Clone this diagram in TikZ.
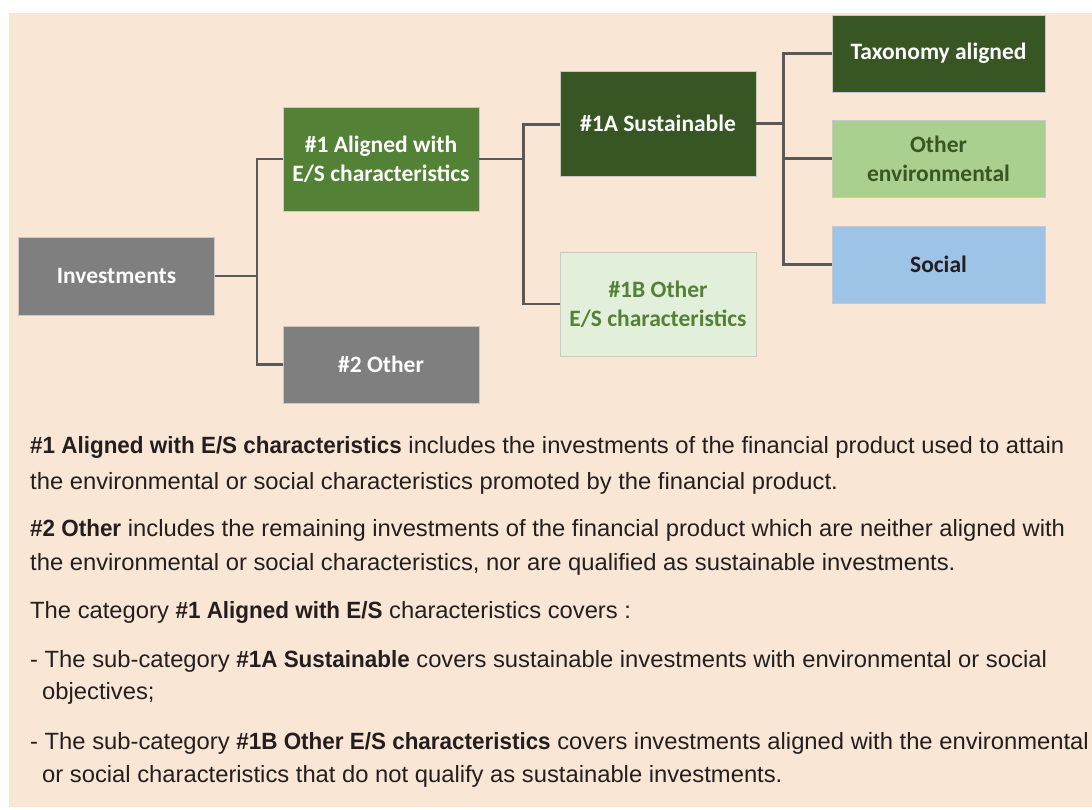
\documentclass[tikz,border=0pt]{standalone}
\usepackage{fontspec}
\setmainfont{Liberation Sans}[FakeStretch=1.012]
\newfontfamily\boldbody{Liberation Sans Bold}[FakeStretch=0.955]
\newfontfamily\boxfont{Carlito}
\newcommand{\bt}[1]{{\boldbody #1}}
\definecolor{peach}{HTML}{FAE6D4}
\definecolor{boxgray}{HTML}{7F7F7F}
\definecolor{midgreen}{HTML}{538135}
\definecolor{darkgreen}{HTML}{375623}
\definecolor{palegreen}{HTML}{E2EFDA}
\definecolor{lightgreen}{HTML}{A9D08E}
\definecolor{lightblue}{HTML}{9DC3E6}
\definecolor{connc}{HTML}{595959}
\definecolor{edgec}{HTML}{C8C8C8}
\definecolor{textc}{HTML}{231F20}
\tikzset{
  box/.style={rectangle, draw=edgec, line width=0.8pt, inner sep=2pt, align=center,
    font=\boxfont\bfseries\fontsize{23.5}{29}\selectfont},
  wbox/.style={box, minimum width=196pt, text=white},
  rbox/.style={box, minimum width=213pt, minimum height=77pt},
  conn/.style={draw=connc, line width=2.6pt},
  line/.style={anchor=base west, inner sep=0pt, text=textc, font=\fontsize{23.5}{28}\selectfont}
}
\begin{document}
\begin{tikzpicture}[x=1pt, y=-1pt]
\useasboundingbox (0,0) rectangle (1092,809);
\fill[peach] (9,13) rectangle (1092,807);
% boxes
\node[wbox, fill=boxgray, minimum height=78pt] (inv) at (116.5,276) {Investments};
\node[wbox, fill=midgreen, minimum height=104pt] (a1) at (381,159) {\#1 Aligned with\\E/S characteristics};
\node[wbox, fill=boxgray, minimum height=77pt] (o2) at (381,364.5) {\#2 Other};
\node[wbox, fill=darkgreen, minimum height=105pt] (s1a) at (658,123.5) {\#1A Sustainable};
\node[box, fill=palegreen, text=midgreen, minimum width=196pt, minimum height=104pt] (o1b) at (658,304) {\#1B Other\\E/S characteristics};
\node[rbox, fill=darkgreen, text=white] (tax) at (938.5,53.5) {Taxonomy aligned};
\node[rbox, fill=lightgreen, text=darkgreen] (oenv) at (938.5,158.5) {Other\\environmental};
\node[rbox, fill=lightblue, text=textc] (soc) at (938.5,264.5) {Social};
% connectors
\draw[conn] (inv.east) -- ++(42,0) |- (a1.west);
\draw[conn] (inv.east) ++(42,0) |- (o2.west);
\draw[conn] (a1.east) -- ++(44,0) |- ([yshift=-1pt]s1a.west);
\draw[conn] (a1.east) ++(44,0) |- (o1b.west);
\draw[conn] (s1a.east) -- ++(27,0) |- (tax.west);
\draw[conn] (s1a.east) ++(27,0) |- (oenv.west);
\draw[conn] (s1a.east) ++(27,0) |- (soc.west);
% text
\node[line] (t1) at (30,453) {\bt{\#1 Aligned with E/S characteristics} includes the investments of the financial product used to attain};
\node[line] (t2) at (30,489) {the environmental or social characteristics promoted by the financial product.};
\node[line] (t3) at (30,536) {\bt{\#2 Other} includes the remaining investments of the financial product which are neither aligned with};
\node[line] (t4) at (30,570) {the environmental or social characteristics, nor are qualified as sustainable investments.};
\node[line] (t5) at (30,618) {The category \bt{\#1 Aligned with E/S} characteristics covers :};
\node[line] (t6) at (30,667) {- The sub-category \bt{\#1A Sustainable} covers sustainable investments with environmental or social};
\node[line] (t7) at (42,699) {objectives;};
\node[line] (t8) at (30,749) {- The sub-category \bt{\#1B Other E/S characteristics} covers investments aligned with the environmental};
\node[line] (t9) at (42,782) {or social characteristics that do not qualify as sustainable investments.};
\end{tikzpicture}
\end{document}
